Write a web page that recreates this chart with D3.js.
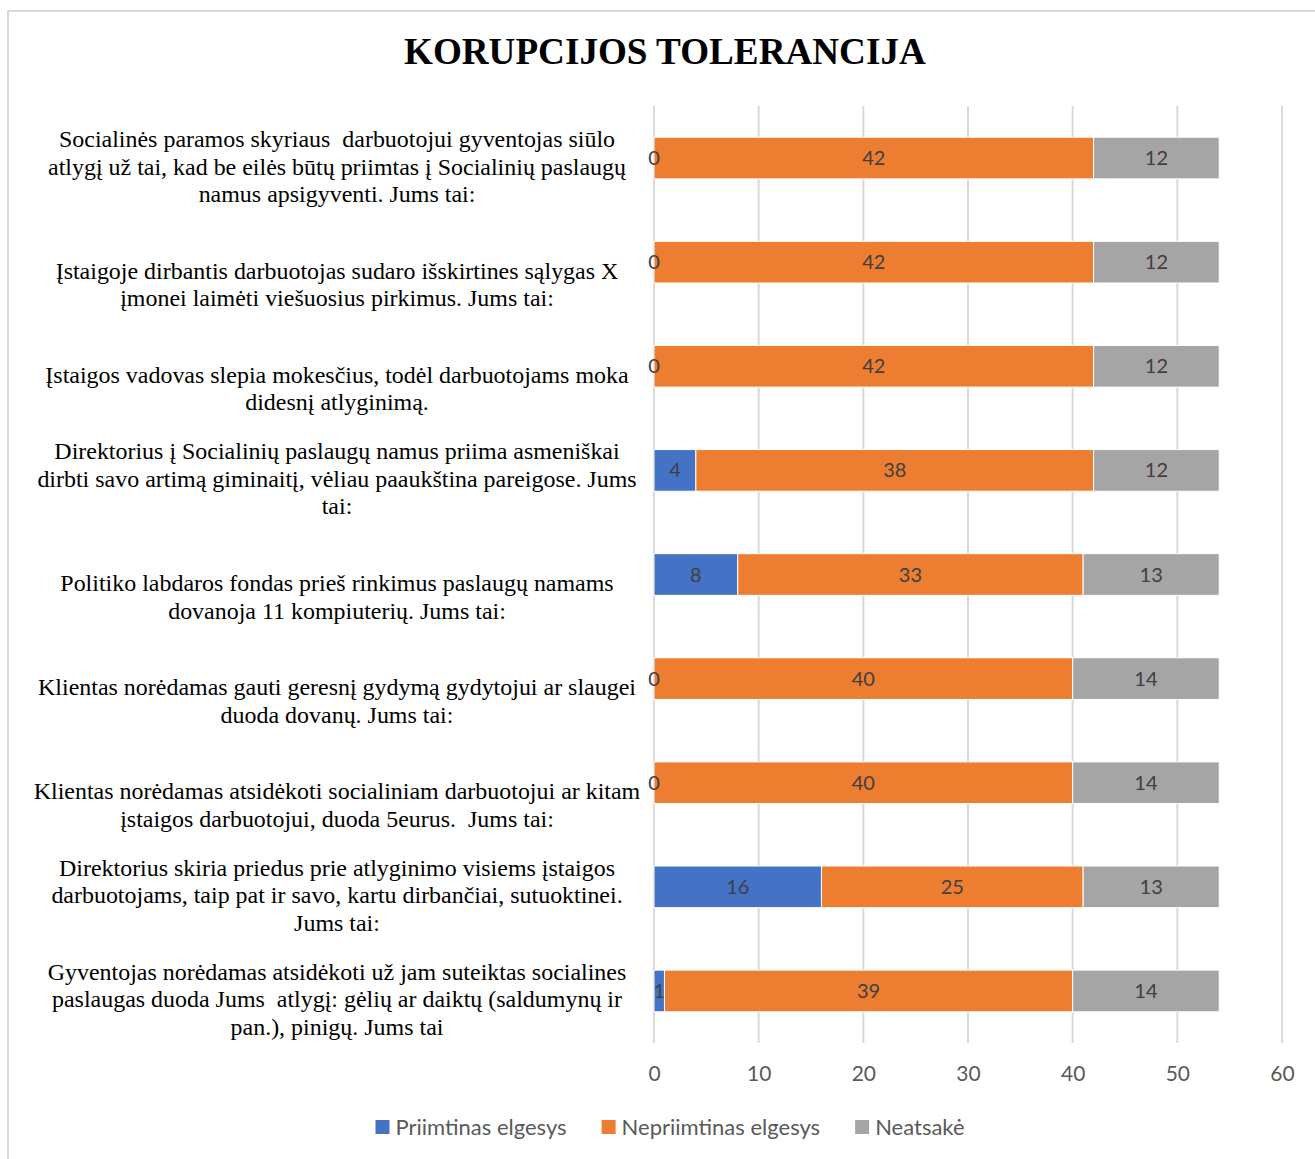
<!DOCTYPE html>
<html>
<head>
<meta charset="utf-8">
<script src="https://cdn.jsdelivr.net/npm/d3@7"></script>
<style>
  body { margin: 0; background: #fff; }
  text { white-space: pre; }
</style>
</head>
<body>
<div id="chart"></div>
<script>
var w = 1315;
var h = 1159;

// data
var categories = [
    ["Socialinės paramos skyriaus  darbuotojui gyventojas siūlo", "atlygį už tai, kad be eilės būtų priimtas į Socialinių paslaugų", "namus apsigyventi. Jums tai:"],
    ["Įstaigoje dirbantis darbuotojas sudaro išskirtines sąlygas X", "įmonei laimėti viešuosius pirkimus. Jums tai:"],
    ["Įstaigos vadovas slepia mokesčius, todėl darbuotojams moka", "didesnį atlyginimą."],
    ["Direktorius į Socialinių paslaugų namus priima asmeniškai", "dirbti savo artimą giminaitį, vėliau paaukština pareigose. Jums", "tai:"],
    ["Politiko labdaros fondas prieš rinkimus paslaugų namams", "dovanoja 11 kompiuterių. Jums tai:"],
    ["Klientas norėdamas gauti geresnį gydymą gydytojui ar slaugei", "duoda dovanų. Jums tai:"],
    ["Klientas norėdamas atsidėkoti socialiniam darbuotojui ar kitam", "įstaigos darbuotojui, duoda 5eurus.  Jums tai:"],
    ["Direktorius skiria priedus prie atlyginimo visiems įstaigos", "darbuotojams, taip pat ir savo, kartu dirbančiai, sutuoktinei.", "Jums tai:"],
    ["Gyventojas norėdamas atsidėkoti už jam suteiktas socialines", "paslaugas duoda Jums  atlygį: gėlių ar daiktų (saldumynų ir", "pan.), pinigų. Jums tai"]
];
var seriesNames = ["Priimtinas elgesys", "Nepriimtinas elgesys", "Neatsakė"];
var priimtinas = [0, 0, 0, 4, 8, 0, 0, 16, 1];
var nepriimtinas = [42, 42, 42, 38, 33, 40, 40, 25, 39];
var neatsake = [12, 12, 12, 12, 13, 14, 14, 13, 14];
var xTicks = [0, 10, 20, 30, 40, 50, 60];
var colours = ["#4472C4", "#ED7D31", "#A5A5A5"];

var titleText = "KORUPCIJOS TOLERANCIJA";

var serifFont = "'Liberation Serif', 'Times New Roman', serif";
var sansFont = "Lato, 'Noto Sans', 'Liberation Sans', sans-serif";

var svg = d3.select("#chart")
    .append("svg")
    .attr("width", w)
    .attr("height", h);

// chart border (runs off the picture on right and bottom)
svg.append("rect")
    .attr("x", 8)
    .attr("y", 11)
    .attr("width", 1400)
    .attr("height", 1300)
    .attr("fill", "#fff")
    .attr("stroke", "#d9d9d9")
    .attr("stroke-width", 2);

// title, squeezed a bit like the original
var title = svg.append("text")
    .text(titleText)
    .attr("font-family", serifFont)
    .attr("font-weight", "bold")
    .attr("font-size", 37)
    .attr("fill", "#000");
var titleW = title.node().getComputedTextLength();
var titleSx = 522 / titleW;
title.attr("transform", "translate(" + (665 - 261) + ",64) scale(" + titleSx + ",1)");

var plotLeft = 654, plotRight = 1282, plotTop = 106, plotBottom = 1043;

var xScale = d3.scaleLinear()
    .domain([0, 60])
    .range([plotLeft, plotRight]);

var yScale = d3.scaleBand()
    .domain(d3.range(categories.length))
    .range([plotTop, plotBottom])
    .paddingInner(0.6)
    .paddingOuter(0.3);

// gridlines
svg.append("g")
    .attr("class", "grid")
    .selectAll("line")
    .data(xTicks)
    .enter().append("line")
    .attr("x1", function(d) { return xScale(d); })
    .attr("x2", function(d) { return xScale(d); })
    .attr("y1", plotTop)
    .attr("y2", plotBottom)
    .attr("stroke", "#d9d9d9")
    .attr("stroke-width", 2);

// x axis labels
var xAxisGen = d3.axisBottom(xScale).tickValues(xTicks).tickSize(0).tickPadding(0);
var xAxis = svg.append("g")
    .attr("class", "x-axis")
    .attr("transform", "translate(0,1066)")
    .call(xAxisGen);
xAxis.select(".domain").remove();
xAxis.selectAll("text")
    .attr("font-family", sansFont)
    .attr("font-size", 21)
    .attr("fill", "#595959");

// stacking
var rows = categories.map(function(c, i) {
    return { idx: i, a: priimtinas[i], b: nepriimtinas[i], c: neatsake[i] };
});
var stack = d3.stack().keys(["a", "b", "c"]);
var stacked = stack(rows);

var layers = svg.append("g")
    .attr("class", "bars")
    .selectAll("g")
    .data(stacked)
    .enter().append("g")
    .attr("fill", function(d, i) { return colours[i]; });

layers.selectAll("rect")
    .data(function(d) { return d; })
    .enter().append("rect")
    .attr("x", function(d) { return xScale(d[0]); })
    .attr("width", function(d) { return xScale(d[1]) - xScale(d[0]); })
    .attr("y", function(d) { return yScale(d.data.idx); })
    .attr("height", yScale.bandwidth())
    .attr("stroke", "#fff")
    .attr("stroke-width", 1);

// data labels on top of all bars
var allSegs = [];
stacked.forEach(function(layer) {
    layer.forEach(function(d) { allSegs.push(d); });
});

svg.append("g")
    .attr("class", "data-labels")
    .selectAll("text")
    .data(allSegs)
    .enter().append("text")
    .text(function(d) { return d[1] - d[0]; })
    .attr("x", function(d) { return (xScale(d[0]) + xScale(d[1])) / 2; })
    .attr("y", function(d) { return yScale(d.data.idx) + yScale.bandwidth() / 2 + 7; })
    .attr("text-anchor", "middle")
    .attr("font-family", sansFont)
    .attr("font-size", 20)
    .attr("fill", "#404040");

// category labels (bottom-aligned to the bar like the original)
var labelCx = 337;
var lineH = 27.5;
var labelG = svg.append("g").attr("class", "cat-labels");

var probe = labelG.append("text")
    .text(categories[6][0])
    .attr("font-family", serifFont)
    .attr("font-size", 23);
var labelSx = 607 / probe.node().getComputedTextLength();
probe.remove();

categories.forEach(function(lines, i) {
    var cy = yScale(i) + yScale.bandwidth() / 2;
    var lastBase = cy + 44;
    lines.forEach(function(line, j) {
        var base = lastBase - (lines.length - 1 - j) * lineH;
        labelG.append("text")
            .text(line)
            .attr("text-anchor", "middle")
            .attr("font-family", serifFont)
            .attr("font-size", 23)
            .attr("fill", "#000")
            .attr("transform", "translate(" + labelCx + "," + base + ") scale(" + labelSx + ",1)");
    });
});

// legend
var legend = svg.append("g").attr("class", "legend");
var legendX = 0;
seriesNames.forEach(function(name, i) {
    var g = legend.append("g");
    g.append("rect")
        .attr("x", 0)
        .attr("y", -14)
        .attr("width", 14)
        .attr("height", 14)
        .attr("fill", colours[i]);
    var t = g.append("text")
        .text(name)
        .attr("x", 20)
        .attr("y", 1)
        .attr("font-family", sansFont)
        .attr("font-size", 22)
        .attr("fill", "#595959");
    var wItem = 20 + t.node().getComputedTextLength();
    g.attr("transform", "translate(" + legendX + ",0)");
    legendX += wItem + 35;
});
var legendW = legendX - 35;
legend.attr("transform", "translate(" + (670 - legendW / 2) + ",1134)");
</script>
</body>
</html>
